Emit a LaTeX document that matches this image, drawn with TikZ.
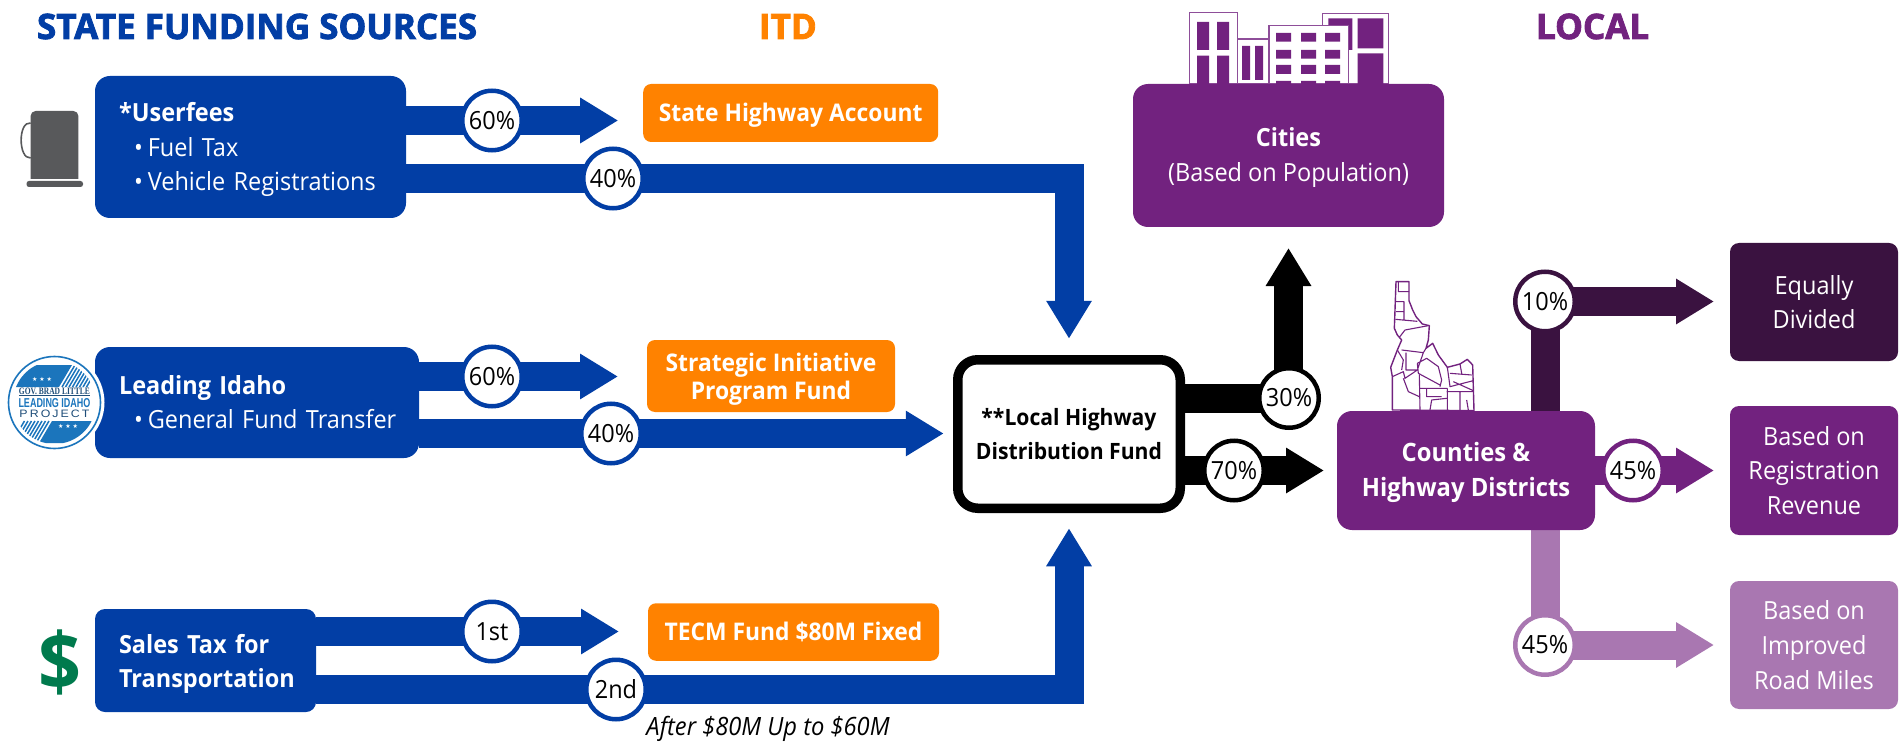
\documentclass[tikz,border=0pt]{standalone}
\usepackage{graphicx}
\usepackage{fontspec}
\setmainfont[FakeStretch=0.94]{Open Sans}
\newfontfamily\titlefont[FakeStretch=1.0,BoldFeatures={FakeBold=2.4}]{Open Sans}
\newfontfamily\logoserif{Liberation Serif}
\newfontfamily\logosans{Liberation Sans}
\newfontfamily\symfont{DejaVu Sans}
\usetikzlibrary{arrows.meta}
\definecolor{fundblue}{HTML}{023EA5}
\definecolor{itdorange}{HTML}{FF8200}
\definecolor{localpurple}{HTML}{72227F}
\definecolor{darkpurple}{HTML}{3A1240}
\definecolor{lightpurple}{HTML}{A977B1}
\definecolor{pumpgrey}{HTML}{58595B}
\definecolor{dollargreen}{HTML}{007A4D}
\definecolor{logoblue}{HTML}{1B75BC}
\definecolor{logodark}{HTML}{1F4E79}
\newcommand{\rl}[1]{\rule{0pt}{#1pt}}
\newcommand{\bul}{\hspace*{39pt}•\hspace{5pt}}
\pgfdeclarelayer{bars}
\pgfsetlayers{bars,main}
\tikzset{
  x=1pt,y=-1pt,
  every node/.style={inner sep=0pt,outer sep=0pt},
  headline/.style={font=\titlefont\bfseries\fontsize{35}{35}\selectfont,anchor=base west},
  srcbox/.style={fill=fundblue,text=white,rounded corners=15pt,align=left,font=\fontsize{25}{34.5}\selectfont},
  itdbox/.style={fill=itdorange,text=white,rounded corners=8pt,align=center,font=\bfseries\fontsize{24.3}{27.5}\selectfont},
  localbox/.style={fill=#1,text=white,rounded corners=15pt,align=center,font=\fontsize{25}{35}\selectfont},
  endbox/.style={fill=#1,text=white,rounded corners=9pt,align=center,font=\fontsize{25}{34.7}\selectfont},
  pct/.style={circle,draw=#1,fill=white,line width=4.5pt,minimum size=59.5pt,text=black,font=\fontsize{25}{25}\selectfont},
  flow/.style={draw=#1,line width=29pt,line join=miter,-{Triangle[length=38pt,width=43pt]}},
  bldg/.style={fill=white,draw=localpurple!80,line width=1.1pt},
  win/.style={fill=localpurple},
  idaho/.style={draw=localpurple,line width=1.4pt,line join=round},
}
\begin{document}
\begin{tikzpicture}
\useasboundingbox (0,0) rectangle (1902,743);

% column headings
\node[headline,text=fundblue] (hstate) at (37,39) {STATE FUNDING SOURCES};
\node[headline,text=itdorange] (hitd) at (759,39) {ITD};
\node[headline,text=localpurple] (hlocal) at (1536,39) {LOCAL};

% fuel pump
\fill[pumpgrey] (30.6,179) [rounded corners=5pt] -- (30.6,111) -- (78.4,111) [sharp corners] -- (78.4,179) -- cycle;
\fill[pumpgrey,rounded corners=2.5pt] (26.5,181) rectangle (83,187);
\draw[pumpgrey,line width=1.6pt] (30.6,123) .. controls (18,121) and (18,159) .. (30.6,158);

% dollar
\node[text=dollargreen,font=\bfseries\fontsize{80}{80}\selectfont] (dollar) at (59.5,662) {\$};

% buildings
\draw[bldg] (1189.3,84) rectangle (1237.3,12.7);
\draw[bldg] (1237.3,84) rectangle (1269,39);
\draw[bldg] (1322.7,84) rectangle (1388.3,13.3);
\fill[win] (1197,22) rectangle (1209,50) (1217,22) rectangle (1229,50) (1197,55.7) rectangle (1209,84) (1217,55.7) rectangle (1229,84);
\fill[win] (1242,46) rectangle (1250,80) (1255,46) rectangle (1263,80);
\fill[win] (1328.3,18.3) rectangle (1352.3,50) (1357.7,18.3) rectangle (1383.3,48.3) (1357.7,53.3) rectangle (1383.3,84);
\draw[bldg] (1269,84) rectangle (1348.3,25.7);
\foreach \yt/\yb in {33/41.7,50/58.7,65/74,81/84}
  \fill[win] (1276,\yt) rectangle (1291,\yb) (1301,\yt) rectangle (1316,\yb) (1325,\yt) rectangle (1340,\yb);

% idaho map (coordinates in a 3x local frame)
\begin{scope}[shift={(1360,260)},x=0.3333pt,y=-0.3333pt]
  \draw[idaho,fill=white] (108,65)--(147,65)--(147,122)--(158,150)--(168,170)--(187,192)--(208,197)--(205,240)--(198,265)--(218,250)--(235,285)--(262,322)--(300,312)--(322,298)--(338,315)--(342,452)--(97,450)--(97,350)--(92,322)--(112,270)--(125,240)--(112,225)--(103,205)--cycle;
  \draw[idaho,line width=1.1pt]
    (115,65)--(115,95)--(147,95)
    (108,125)--(132,125)--(132,178)
    (108,155)--(132,155)
    (106,178)--(172,184)
    (118,232)--(135,210)--(205,197)
    (125,270)--(190,278)--(198,265)
    (112,270)--(130,300)--(125,330)
    (138,278)--(138,330)--(172,330)--(190,278)
    (97,350)--(130,335)--(135,355)--(172,330)
    (130,355)--(145,395)--(178,410)
    (172,310)--(200,295)--(235,320)--(245,360)--(240,380)
    (172,310)--(175,340)--(240,375)
    (178,345)--(180,450)
    (180,385)--(262,385)
    (200,385)--(200,410)--(245,410)
    (210,450)--(215,420)--(260,415)
    (262,322)--(270,380)--(340,362)
    (270,340)--(335,345)
    (262,385)--(262,450)
    (280,365)--(340,392)
    (260,395)--(340,395)
    (300,395)--(300,450)
    (320,420)--(325,450)
    (300,312)--(305,340);
\end{scope}

% source boxes
\node[srcbox,minimum width=311pt,minimum height=142pt,text width=311pt] (uf) at (250.5,147) {\hspace*{24pt}\rl{25}\textbf{*Userfees}\\\bul Fuel Tax\\\bul Vehicle Registrations};
\node[srcbox,minimum width=324pt,minimum height=111pt,text width=324pt,font=\fontsize{25}{34}\selectfont] (li) at (257,402.5) {\hspace*{24pt}\textbf{Leading Idaho}\\\bul General Fund Transfer};
\node[srcbox,rounded corners=10pt,minimum width=221pt,minimum height=103pt,text width=221pt,font=\fontsize{25}{34}\selectfont] (st) at (205.5,660.5) {\hspace*{24pt}\rl{25}\textbf{Sales Tax for}\\\hspace*{24pt}\textbf{Transportation}};

% logo
\fill[white] (54.5,402.5) circle[radius=50];
\begin{scope}
  \clip (54.5,402.5) circle[radius=41.5];
  \fill[logoblue] (10,387) -- (59,387) -- (72,365) -- (10,365) -- cycle;
  \foreach \s in {62,65.5,69,72.5,76,79.5,83,86.5}
    \draw[logoblue,line width=1.5pt] (\s,387) -- (\s+13,365);
  \fill[logoblue] (99,421) -- (52,421) -- (39,443) -- (99,443) -- cycle;
  \foreach \s in {49,45.5,42,38.5,35,31.5,28,24.5}
    \draw[logoblue,line width=1.5pt] (\s,421) -- (\s-13,443);
\end{scope}
\draw[logoblue,line width=1.6pt] (54.5,402.5) circle[radius=46];
\node[text=white,font=\symfont\fontsize{6}{6}\selectfont] (starsa) at (42,379.5) {★ ★ ★};
\node[text=white,font=\symfont\fontsize{6}{6}\selectfont] (starsb) at (68,426) {★ ★ ★};
\node[text=logodark,font=\logoserif\bfseries] (lgov) at (54.5,391.5) {\resizebox{71pt}{6.5pt}{GOV. BRAD LITTLE}};
\draw[logodark,line width=0.7pt] (19,395.5) -- (90,395.5);
\node[text=logoblue,font=\logosans\bfseries] (llead) at (54.5,403.5) {\resizebox{72pt}{9pt}{LEADING IDAHO}};
\node[text=logodark,font=\logosans] (lproj) at (54.5,413.5) {\resizebox{70pt}{7.5pt}{P\,R\,O\,J\,E\,C\,T}};

% ITD boxes
\node[itdbox,minimum width=295pt,minimum height=58pt] (sha) at (790.7,113) {\rl{23.4}State Highway Account};
\node[itdbox,minimum width=248pt,minimum height=72pt] (spi) at (771,376) {\rl{24.4}Strategic Initiative\\Program Fund};
\node[itdbox,minimum width=291pt,minimum height=57.5pt] (tecm) at (793.5,632) {TECM Fund \$80M Fixed};
\node[font=\itshape\fontsize{25.2}{25.2}\selectfont,anchor=base] (after) at (768,735) {After \$80M Up to \$60M};

% central fund
\node[draw=black,line width=9.5pt,fill=white,rounded corners=20pt,minimum width=222.5pt,minimum height=148.5pt,align=center,font=\bfseries\fontsize{22.5}{34.5}\selectfont] (lhdf) at (1069,434) {**Local Highway\\Distribution Fund};

% local boxes
\node[localbox=localpurple,minimum width=311pt,minimum height=143pt] (cities) at (1288.5,155.5) {\rl{24}\textbf{Cities}\\(Based on Population)};
\node[localbox=localpurple,minimum width=258pt,minimum height=119pt,font=\bfseries\fontsize{25.3}{35}\selectfont] (cd) at (1466,470.5) {\rl{24}Counties \&\\Highway Districts};
\node[endbox=darkpurple,minimum width=168pt,minimum height=118pt] (eq) at (1814,302) {Equally\\Divided};
\node[endbox=localpurple,minimum width=168pt,minimum height=129pt] (br) at (1814,470.5) {Based on\\Registration\\Revenue};
\node[endbox=lightpurple,minimum width=168pt,minimum height=128pt] (bi) at (1814,645) {Based on\\Improved\\Road Miles};

% percent circles
\node[pct=fundblue] (a1) at (492,120.5) {60\%};
\node[pct=fundblue] (a2) at (613,178.5) {40\%};
\node[pct=fundblue] (b1) at (492,376.5) {60\%};
\node[pct=fundblue] (b2) at (611,433.5) {40\%};
\node[pct=fundblue] (c1) at (492,631.5) {1st};
\node[pct=fundblue] (c2) at (616,689.5) {2nd};
\node[pct=black] (k1) at (1289,398) {30\%};
\node[pct=black] (k2) at (1234,470.5) {70\%};
\node[pct=darkpurple] (p1) at (1545,301.5) {10\%};
\node[pct=localpurple] (p2) at (1633,470.5) {45\%};
\node[pct=lightpurple] (p3) at (1545,645) {45\%};

% connectors
\begin{pgfonlayer}{bars}
  \draw[flow=fundblue,shorten >=25pt] (uf.east |- a1) -- (sha.west |- a1);
  \draw[flow=fundblue,shorten >=21pt] (uf.east |- a2) -| (lhdf.north);
  \draw[flow=fundblue,shorten >=29pt] (li.east |- b1) -- (spi.west |- b1);
  \draw[flow=fundblue,shorten >=14pt] (li.east |- b2) -- (lhdf.west |- b2);
  \draw[flow=fundblue,shorten >=29pt] (st.east |- c1) -- (tecm.west |- c1);
  \draw[flow=fundblue,shorten >=20pt] (st.east |- c2) -| (lhdf.south);
  \draw[flow=black,shorten >=21pt] (lhdf.east |- k1) -| (cities.south);
  \draw[flow=black,shorten >=13pt] (lhdf.east |- k2) -- (cd.west |- k2);
  \draw[flow=darkpurple,shorten >=16pt] (cd.north -| p1) -- (p1.center) -- (eq.west |- p1);
  \draw[flow=localpurple,shorten >=16pt] (cd.east |- p2) -- (br.west |- p2);
  \draw[flow=lightpurple,shorten >=16pt] (cd.south -| p3) -- (p3.center) -- (bi.west |- p3);
\end{pgfonlayer}
\end{tikzpicture}
\end{document}
